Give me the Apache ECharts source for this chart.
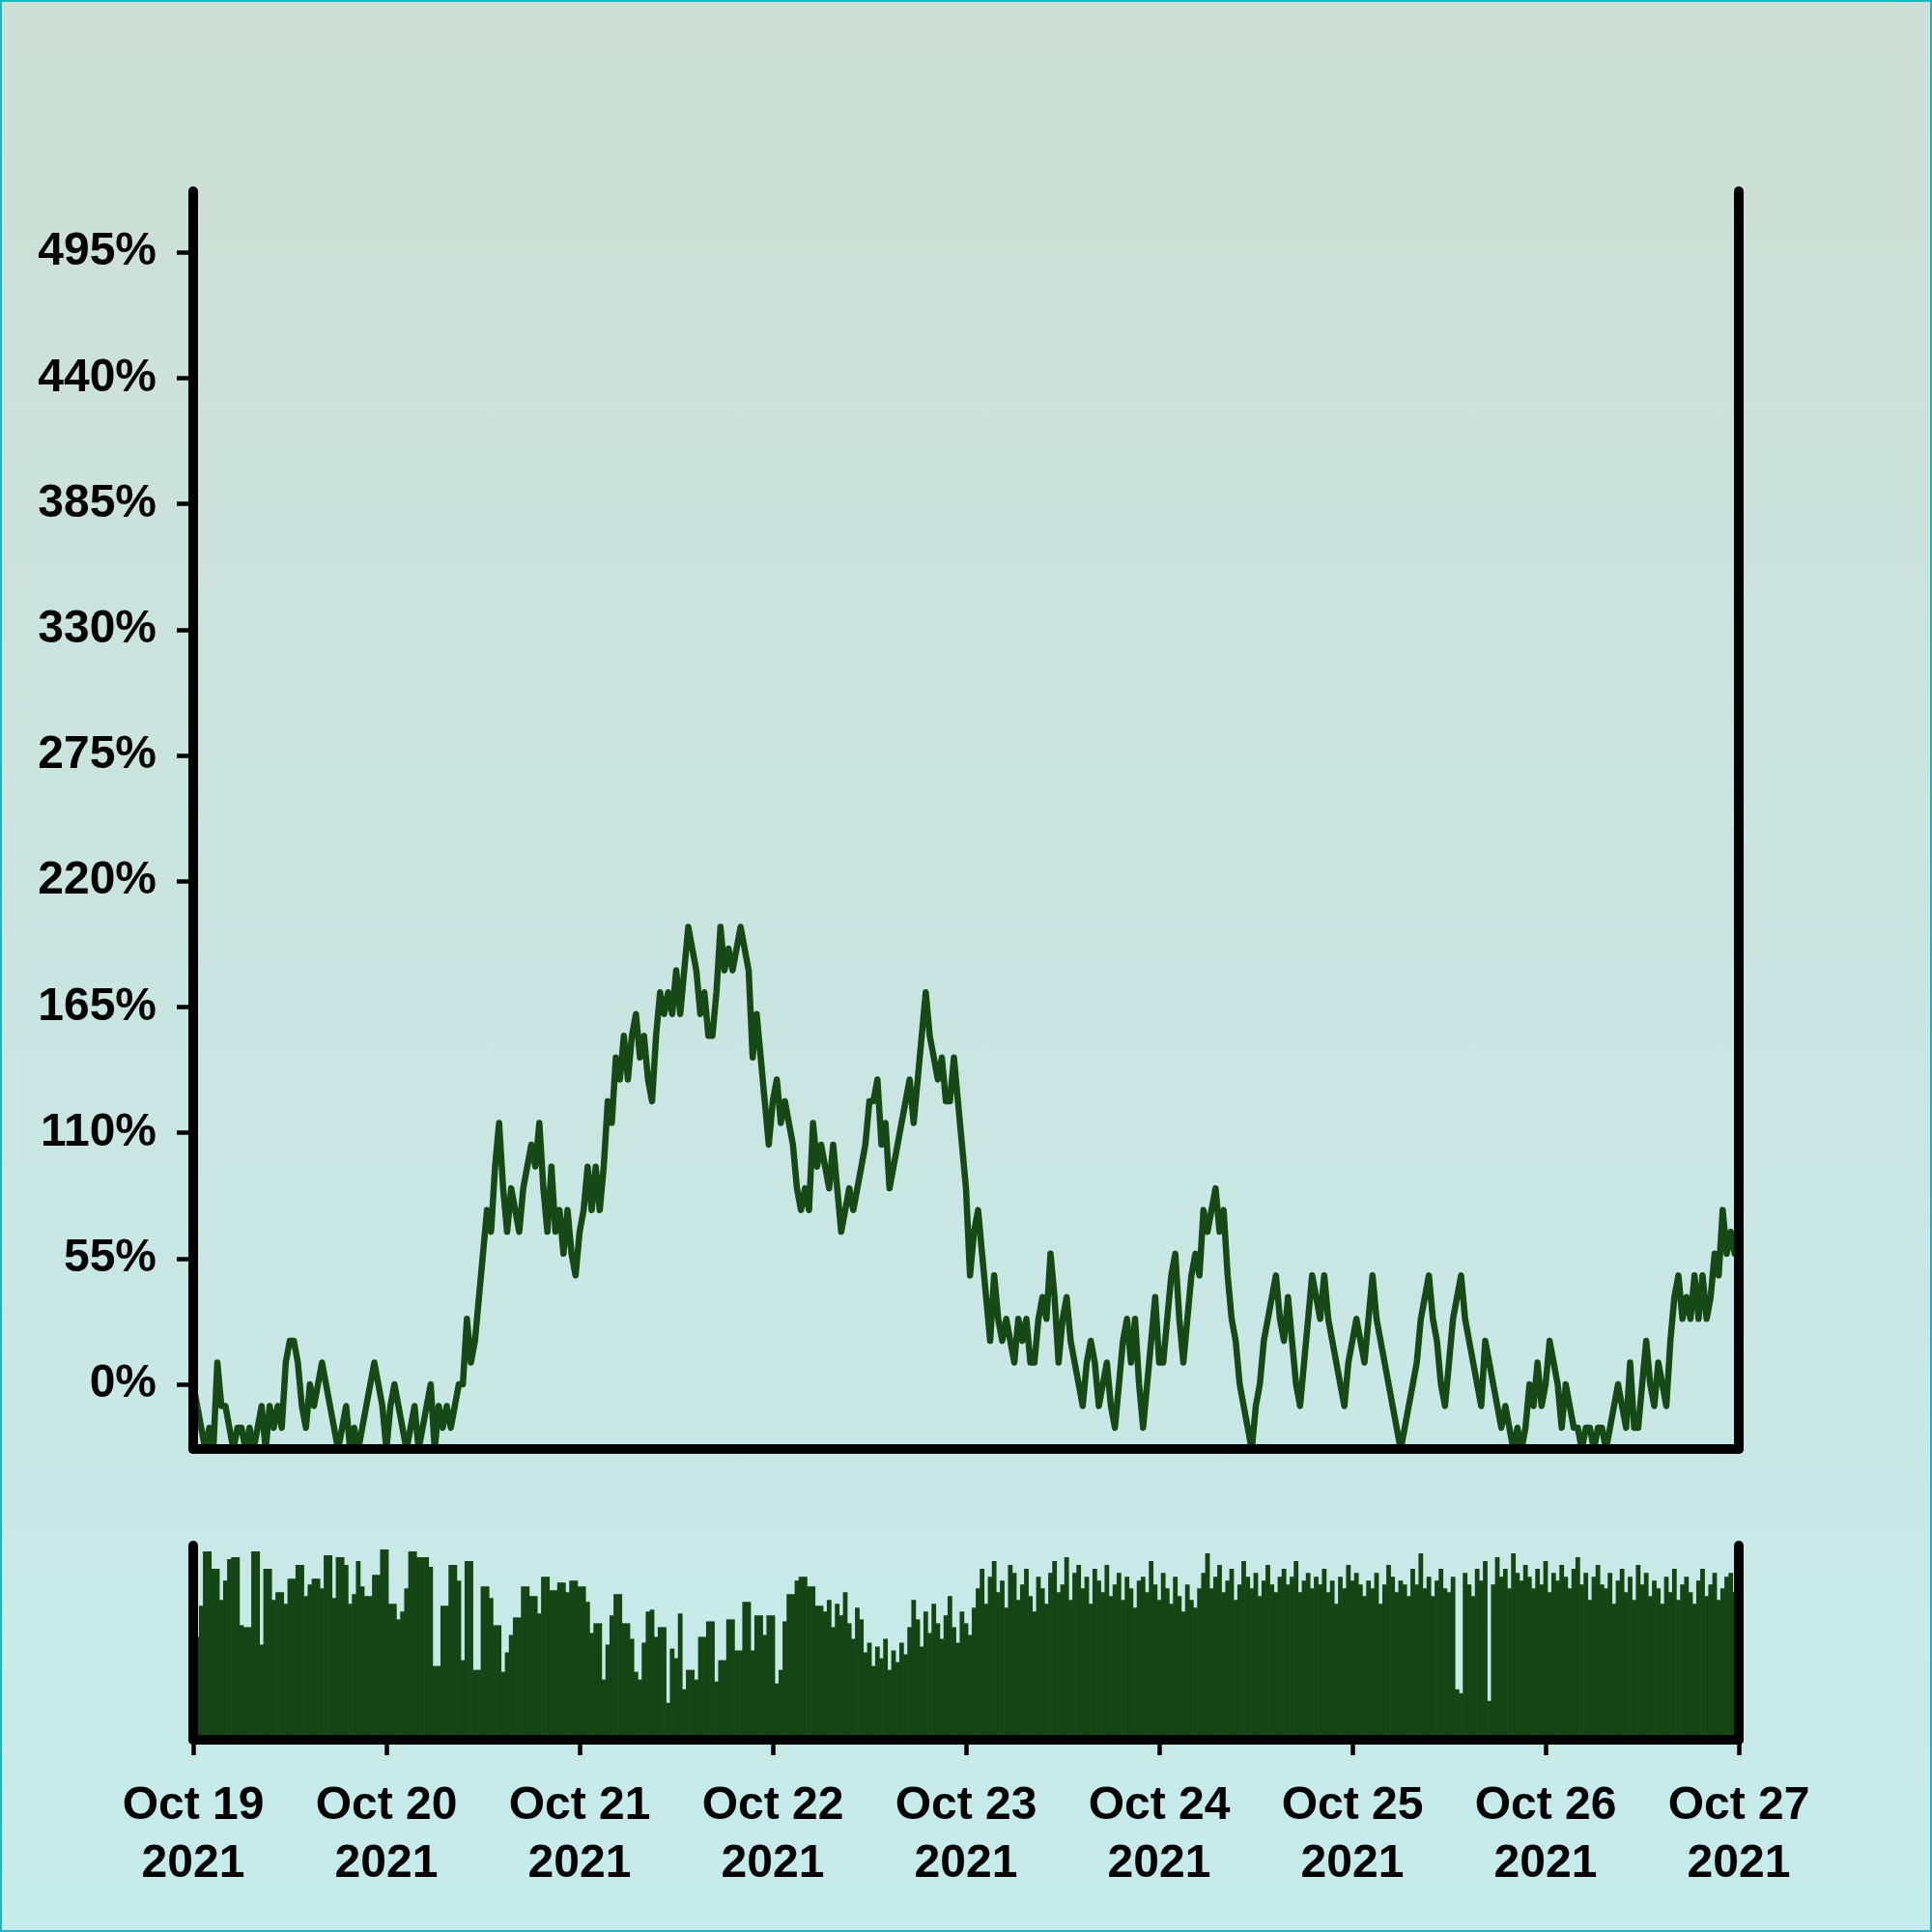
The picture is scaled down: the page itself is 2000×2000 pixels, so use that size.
<!DOCTYPE html>
<html><head><meta charset="utf-8">
<script src="https://cdn.jsdelivr.net/npm/echarts@6/dist/echarts.min.js"></script>
<style>
html,body{margin:0;padding:0;}
#chart{width:2000px;height:2000px;background:linear-gradient(to bottom,#cddfd6 0%,#c6ebeb 100%);outline:2px solid #19b7c2;outline-offset:-2px;}
</style></head><body><div id="chart"></div>
<script>
const startDate = [2021, 9, 19];
const stepMinutes = 30;
const tickLabels = ['Oct 19\n2021','Oct 20\n2021','Oct 21\n2021','Oct 22\n2021','Oct 23\n2021','Oct 24\n2021','Oct 25\n2021','Oct 26\n2021','Oct 27\n2021'];
const yTicks = [0,55,110,165,220,275,330,385,440,495];

const pctChange = [
0,-9.5,-19,-28.6,-19,-28.6,9.5,-9.5,-9.5,-19,
-28.6,-19,-19,-28.6,-19,-28.6,-19,-9.5,-28.6,-9.5,
-19,-9.5,-19,9.5,19,19,9.5,-9.5,-19,0,
-9.5,0,9.5,0,-9.5,-19,-28.6,-19,-9.5,-28.6,
-19,-28.6,-19,-9.5,0,9.5,0,-9.5,-28.6,-9.5,
0,-9.5,-19,-28.6,-19,-9.5,-28.6,-19,-9.5,0,
-28.6,-9.5,-19,-9.5,-19,-9.5,0,0,28.6,9.5,
19,38.1,57.1,76.2,66.7,95.2,114.3,85.7,66.7,85.7,
76.2,66.7,85.7,95.2,104.8,95.2,114.3,85.7,66.7,95.2,
66.7,76.2,57.1,76.2,57.1,47.6,66.7,76.2,95.2,76.2,
95.2,76.2,95.2,123.8,114.3,142.9,133.3,152.4,133.3,152.4,
161.9,142.9,152.4,133.3,123.8,152.4,171.4,161.9,171.4,161.9,
181,161.9,181,200,190.5,181,161.9,171.4,152.4,152.4,
171.4,200,181,190.5,181,190.5,200,190.5,181,142.9,
161.9,142.9,123.8,104.8,123.8,133.3,114.3,123.8,114.3,104.8,
85.7,76.2,85.7,76.2,114.3,95.2,104.8,95.2,85.7,104.8,
85.7,66.7,76.2,85.7,76.2,85.7,95.2,104.8,123.8,123.8,
133.3,104.8,114.3,85.7,95.2,104.8,114.3,123.8,133.3,114.3,
133.3,152.4,171.4,152.4,142.9,133.3,142.9,123.8,123.8,142.9,
123.8,104.8,85.7,47.6,66.7,76.2,57.1,38.1,19,47.6,
28.6,19,28.6,19,9.5,28.6,19,28.6,9.5,9.5,
28.6,38.1,28.6,57.1,38.1,9.5,28.6,38.1,19,9.5,
0,-9.5,9.5,19,9.5,-9.5,0,9.5,-9.5,-19,
0,19,28.6,9.5,28.6,0,-19,0,19,38.1,
9.5,9.5,28.6,47.6,57.1,28.6,9.5,28.6,47.6,57.1,
47.6,76.2,66.7,76.2,85.7,66.7,76.2,47.6,28.6,19,
0,-9.5,-19,-28.6,-9.5,0,19,28.6,38.1,47.6,
28.6,19,38.1,19,0,-9.5,9.5,28.6,47.6,38.1,
28.6,47.6,28.6,19,9.5,0,-9.5,9.5,19,28.6,
19,9.5,28.6,47.6,28.6,19,9.5,0,-9.5,-19,
-28.6,-19,-9.5,0,9.5,28.6,38.1,47.6,28.6,19,
0,-9.5,9.5,28.6,38.1,47.6,28.6,19,9.5,0,
-9.5,19,9.5,0,-9.5,-19,-9.5,-19,-28.6,-19,
-28.6,-19,0,-9.5,9.5,-9.5,0,19,9.5,0,
-19,0,-9.5,-19,-19,-28.6,-19,-19,-28.6,-19,
-19,-28.6,-19,-9.5,0,-9.5,-19,9.5,-19,-19,
0,19,0,-9.5,9.5,0,-9.5,19,38.1,47.6,
28.6,38.1,28.6,47.6,28.6,47.6,28.6,38.1,57.1,47.6,
76.2,57.1,66.7,57.1,57.1
];

const volume = [
60,53,69,97,97,88,88,72,82,93,
94,94,59,58,58,97,97,49,88,88,
72,76,76,70,83,83,90,90,74,80,
83,83,78,95,95,73,94,94,90,70,
75,92,79,74,74,85,85,98,98,70,
70,62,66,78,97,97,94,94,94,89,
38,38,69,69,90,90,82,41,92,92,
36,36,79,79,73,59,59,35,45,54,
63,63,79,79,74,74,65,84,84,77,
77,81,81,76,82,82,79,79,71,55,
60,60,31,49,64,75,75,60,60,52,
35,31,50,66,67,53,58,58,19,47,
42,65,26,36,36,31,53,53,61,61,
30,41,41,62,62,46,46,71,71,46,
64,64,54,64,64,29,36,61,75,75,
82,84,84,79,79,69,69,
66,72,58,70,64,76,60,52,68,62,
45,50,38,48,42,52,36,46,40,50,44,
58,72,62,48,66,55,70,60,52,64,74,58,50,66,60,54,68,
78,88,70,84,92,76,82,68,90,86,72,80,88,74,66,84,78,70,86,92,76,
80,94,72,86,90,78,84,70,88,82,76,90,74,80,86,72,84,78,68,82,
84,76,92,80,72,86,78,70,84,74,66,80,72,68,78,
86,96,78,84,90,76,82,88,72,80,92,84,78,86,74,82,90,80,76,84,
88,80,84,92,76,82,86,78,84,80,88,76,82,70,84,78,90,82,86,80,
74,82,78,86,70,80,90,84,76,82,80,74,88,80,96,78,84,74,82,88,
78,76,84,26,24,86,80,74,88,82,92,20,80,94,84,88,78,96,86,82,
90,84,78,88,80,92,76,86,82,90,84,78,88,94,80,86,72,84,90,80,
78,86,70,82,88,76,84,72,90,80,86,74,82,78,70,84,76,88,72,80,
84,76,70,82,88,74,80,86,72,78,84,86,76,74
];

const t0 = new Date(startDate[0], startDate[1], startDate[2]).getTime();
const times = pctChange.map((_, i) => t0 + i * stepMinutes * 60000);
const stepsPerDay = 24 * 60 / stepMinutes;

const FONT = 'Liberation Sans';
const INK = '#000000';
const GREEN = '#164916';
const axisLineStyle = { show: true, onZero: false, lineStyle: { color: INK, width: 10, cap: 'round' } };

const chart = echarts.init(document.getElementById('chart'), null, { renderer: 'canvas' });
chart.setOption({
  animation: false,
  backgroundColor: 'transparent',
  grid: [
    { left: 200, right: 200, top: 198, height: 1302 },
    { left: 200, right: 200, top: 1600, height: 201 }
  ],
  xAxis: [
    { type: 'category', gridIndex: 0, data: times, boundaryGap: false, z: 10,
      axisLine: axisLineStyle, axisTick: { show: false }, axisLabel: { show: false }, splitLine: { show: false } },
    { type: 'category', gridIndex: 1, data: times, boundaryGap: false, z: 10,
      axisLine: axisLineStyle,
      axisTick: { show: true, interval: stepsPerDay - 1, length: 16, lineStyle: { color: INK, width: 4.5 } },
      axisLabel: { show: true, interval: stepsPerDay - 1, margin: 39, fontSize: 48, fontWeight: 'bold',
        fontFamily: FONT, color: INK, lineHeight: 60,
        formatter: (v, idx) => tickLabels[Math.round(idx / stepsPerDay)] },
      splitLine: { show: false } }
  ],
  yAxis: [
    { type: 'value', gridIndex: 0, min: -28.3, max: 521.7, z: 10,
      axisLine: axisLineStyle,
      axisTick: { show: true, customValues: yTicks, length: 17, lineStyle: { color: INK, width: 4.5 } },
      axisLabel: { show: true, customValues: yTicks, formatter: '{value}%', margin: 38, fontSize: 48,
        fontWeight: 'bold', fontFamily: FONT, color: INK },
      splitLine: { show: false } },
    { type: 'value', gridIndex: 0, position: 'right', min: -28.3, max: 521.7, z: 10,
      axisLine: axisLineStyle, axisTick: { show: false }, axisLabel: { show: false }, splitLine: { show: false } },
    { type: 'value', gridIndex: 1, min: 0, max: 100, z: 10,
      axisLine: axisLineStyle, axisTick: { show: false }, axisLabel: { show: false }, splitLine: { show: false } },
    { type: 'value', gridIndex: 1, position: 'right', min: 0, max: 100, z: 10,
      axisLine: axisLineStyle, axisTick: { show: false }, axisLabel: { show: false }, splitLine: { show: false } }
  ],
  series: [
    { type: 'line', xAxisIndex: 0, yAxisIndex: 0, data: pctChange, symbol: 'none', showSymbol: false,
      lineStyle: { color: GREEN, width: 6.5, join: 'round', cap: 'round' } },
    { type: 'bar', xAxisIndex: 1, yAxisIndex: 2, data: volume, barWidth: '115%', barGap: '0%',
      itemStyle: { color: '#154514' } }
  ]
});
</script>
</body></html>
